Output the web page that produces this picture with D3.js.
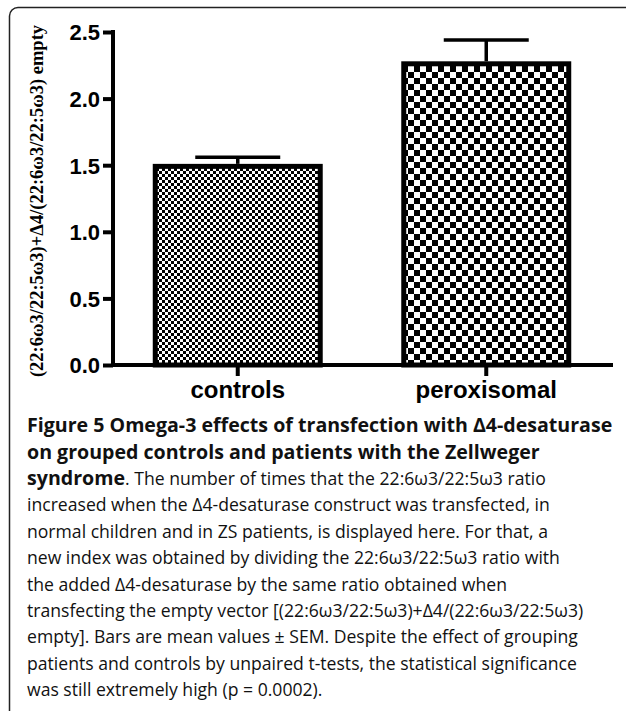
<!DOCTYPE html>
<meta charset="utf-8">
<style>
body { margin: 0; background: #fff; }
.tick text { font-family: "Liberation Sans", Arial, sans-serif; font-weight: bold; }
.cap { font-family: "Open Sans", sans-serif; fill: #111; }
</style>
<svg width="627" height="713"></svg>
<script src="https://cdn.jsdelivr.net/npm/d3@7/dist/d3.min.js"></script>
<script>

var categories = ["controls", "peroxisomal"]
var means = [1.51, 2.28]
var sems = [0.05, 0.16]
var yTicks = [0, 0.5, 1.0, 1.5, 2.0, 2.5]
var cellSizes = [3, 6]   // checkerboard size per bar

var yLabel = "(22:6\u03c93/22:5\u03c93)+\u03944/(22:6\u03c93/22:5\u03c93) empty"

var titleLines = [
  "Figure 5 Omega-3 effects of transfection with \u03944-desaturase",
  "on grouped controls and patients with the Zellweger"
]
var bodyLines = [
  ["syndrome", ". The number of times that the 22:6\u03c93/22:5\u03c93 ratio"],
  ["", "increased when the \u03944-desaturase construct was transfected, in"],
  ["", "normal children and in ZS patients, is displayed here. For that, a"],
  ["", "new index was obtained by dividing the 22:6\u03c93/22:5\u03c93 ratio with"],
  ["", "the added \u03944-desaturase by the same ratio obtained when"],
  ["", "transfecting the empty vector [(22:6\u03c93/22:5\u03c93)+\u03944/(22:6\u03c93/22:5\u03c93)"],
  ["", "empty]. Bars are mean values \u00b1 SEM. Despite the effect of grouping"],
  ["", "patients and controls by unpaired t-tests, the statistical significance"],
  ["", "was still extremely high (p = 0.0002)."]
]

var svg = d3.select("svg")

// frame (only top and left edges show)
svg.append("path")
  .attr("d", "M626,7.5 H18 A8.5,8.5 0 0 0 9.5,16 V711")
  .attr("fill", "none")
  .attr("stroke", "#222")
  .attr("stroke-width", 1.5)

var defs = svg.append("defs")
cellSizes.forEach(function(c, i) {
  var p = defs.append("pattern")
    .attr("id", "chk" + i)
    .attr("patternUnits", "userSpaceOnUse")
    .attr("width", c * 2).attr("height", c * 2)
  p.append("rect").attr("width", c * 2).attr("height", c * 2).attr("fill", "#fff")
  p.append("rect").attr("width", c).attr("height", c).attr("fill", "#000")
  p.append("rect").attr("x", c).attr("y", c).attr("width", c).attr("height", c).attr("fill", "#000")
})

var y = d3.scaleLinear()
    .domain([0, 2.5])
    .range([365, 32])

var x = d3.scaleBand()
    .domain(categories)
    .range([113, 611])
    .paddingInner(0.316)
    .paddingOuter(0.16)

// bars
var bw = 5
svg.append("g").selectAll("rect")
  .data(categories)
  .enter().append("rect")
    .attr("x", function(d) { return x(d) + bw / 2 })
    .attr("y", function(d, i) { return y(means[i]) + bw / 2 })
    .attr("width", x.bandwidth() - bw)
    .attr("height", function(d, i) { return y(0) - y(means[i]) - bw / 2 })
    .attr("fill", function(d, i) { return "url(#chk" + i + ")" })
    .attr("stroke", "#000")
    .attr("stroke-width", bw)

// error bars
var err = svg.append("g").attr("stroke", "#000").attr("stroke-width", 3.5)
categories.forEach(function(d, i) {
  var cx = x(d) + x.bandwidth() / 2
  var top = y(means[i] + sems[i])
  err.append("line")
    .attr("x1", cx).attr("x2", cx)
    .attr("y1", y(means[i])).attr("y2", top)
  err.append("line")
    .attr("x1", cx - x.bandwidth() / 4).attr("x2", cx + x.bandwidth() / 4)
    .attr("y1", top).attr("y2", top)
})

// y axis
var yAxis = svg.append("g")
  .attr("transform", "translate(113,0)")
  .call(d3.axisLeft(y).tickValues(yTicks).tickFormat(d3.format(".1f")).tickSize(10).tickSizeOuter(0).tickPadding(3))
yAxis.select(".domain").attr("stroke-width", 4).attr("d", "M0,30V367")
yAxis.selectAll(".tick line").attr("stroke-width", 4)
yAxis.selectAll(".tick text").attr("font-size", 22).attr("fill", "#000").attr("dy", "0.36em")

// x axis
var xAxis = svg.append("g")
  .attr("transform", "translate(0,365)")
  .call(d3.axisBottom(x).tickSize(11).tickSizeOuter(0).tickPadding(5))
xAxis.select(".domain").attr("stroke-width", 4).attr("d", "M111,0H613")
xAxis.selectAll(".tick line").attr("stroke-width", 4)
xAxis.selectAll(".tick text").attr("font-size", 24).attr("fill", "#000")

// y label
svg.append("text")
  .attr("transform", "translate(43,201) rotate(-90)")
  .attr("text-anchor", "middle")
  .attr("font-family", "'Liberation Serif', 'Times New Roman', serif")
  .attr("font-weight", "bold")
  .attr("font-size", 18.5)
  .text(yLabel)

// caption
var cap = svg.append("g").attr("class", "cap")
titleLines.forEach(function(t, i) {
  cap.append("text")
    .attr("x", 27).attr("y", 432 + i * 27)
    .attr("font-size", 19.6).attr("font-weight", "bold")
    .text(t)
})
bodyLines.forEach(function(l, i) {
  var t = cap.append("text")
    .attr("x", 27).attr("y", 485 + i * 26.4)
    .attr("font-size", 17.6)
  if (l[0]) t.append("tspan").attr("font-weight", "bold").attr("font-size", 19.6).text(l[0])
  t.append("tspan").text(l[1])
})

</script>
